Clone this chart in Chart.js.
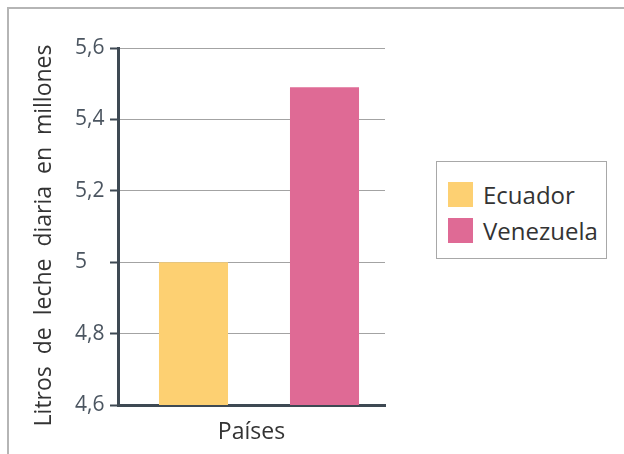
<!DOCTYPE html>
<html>
<head>
<meta charset="utf-8">
<script src="https://cdn.jsdelivr.net/npm/chart.js@4"></script>
<style>
  html, body { margin: 0; padding: 0; background: #fff; }
  #wrap { position: relative; width: 624px; height: 454px; overflow: hidden; }
  #frame { position: absolute; left: 7px; top: 7px; right: -4px; bottom: -4px;
           border-top: 2px solid #b5b5b5; border-left: 2px solid #b5b5b5; }
  #chart { position: absolute; left: 0; top: 0; }
  #legend { position: absolute; left: 436px; top: 161px; width: 169px; height: 96px;
            border: 1px solid #a8a8a8; background: #fff; font-family: "Open Sans", sans-serif;
            font-size: 24px; color: #333; }
  .item { position: absolute; left: 11px; height: 25px; line-height: 25px; white-space: nowrap; }
  .item span { display: inline-block; width: 25px; height: 25px; vertical-align: top; margin-right: 10px; }
</style>
</head>
<body>
<div id="wrap">
  <div id="frame"></div>
  <canvas id="chart" width="624" height="454"></canvas>
  <div id="legend"></div>
</div>
<script>
const CATEGORIES = ["Ecuador", "Venezuela"];
const VALUES = [5.0, 5.49];
const COLORS = ["#fdd072", "#df6a95"];
const Y_TICK_VALUES = [4.6, 4.8, 5.0, 5.2, 5.4, 5.6];
const Y_TICK_LABELS = ["4,6", "4,8", "5", "5,2", "5,4", "5,6"];

const AXIS_COLOR = "#3e4953";
const FONT = "'Open Sans', sans-serif";

const datasets = CATEGORIES.map((name, i) => ({
    label: name,
    data: [{ x: i + 1, y: VALUES[i] }],
    backgroundColor: COLORS[i],
    borderWidth: 0,
    grouped: false,
    categoryPercentage: 1,
    barPercentage: 0.527
}));

// html legend
const legend = document.getElementById("legend");
CATEGORIES.forEach((name, i) => {
    const row = document.createElement("div");
    row.className = "item";
    row.style.top = (20 + i * 36) + "px";
    row.innerHTML = '<span style="background:' + COLORS[i] + '"></span>' + name;
    legend.appendChild(row);
});

const ctx = document.getElementById("chart").getContext("2d");
const myChart = new Chart(ctx, {
    type: "bar",
    data: { datasets: datasets },
    options: {
        responsive: false,
        animation: false,
        layout: { padding: { left: 0, right: 239, top: 48, bottom: 0 } },
        plugins: {
            legend: { display: false },
            tooltip: { enabled: false }
        },
        scales: {
            x: {
                type: "linear",
                offset: false,
                min: 0.4237,
                max: 2.4618,
                afterBuildTicks: (scale) => {
                    scale.ticks = CATEGORIES.map((c, i) => ({ value: i + 1 }));
                },
                grid: { display: false },
                ticks: { display: false },
                border: { display: true, color: AXIS_COLOR, width: 3 },
                title: {
                    display: true,
                    text: "Países",
                    color: "#333",
                    font: { family: FONT, size: 23 },
                    padding: { top: 0, bottom: 8 }
                },
                afterFit: (scale) => { scale.height = 49; }
            },
            y: {
                min: 4.6,
                max: 5.6,
                weight: 0,
                afterBuildTicks: (scale) => {
                    scale.ticks = Y_TICK_VALUES.map(v => ({ value: v }));
                },
                ticks: {
                    crossAlign: "far",
                    color: "#4b5560",
                    font: { family: FONT, size: 21 },
                    callback: (v, i) => Y_TICK_LABELS[i]
                },
                grid: {
                    color: "#a3a3a3",
                    lineWidth: 1,
                    tickLength: 8,
                    tickColor: AXIS_COLOR,
                    tickWidth: 2
                },
                border: { display: true, color: AXIS_COLOR, width: 3 },
                afterFit: (scale) => { scale.width = 43; }
            },
            // empty axis that only carries the y title, outside the tick labels
            yTitle: {
                type: "linear",
                position: "left",
                weight: 1,
                ticks: { display: false },
                grid: { display: false },
                border: { display: false },
                title: {
                    display: true,
                    text: "Litros  de  leche  diaria  en  millones   ",
                    color: "#333",
                    font: { family: FONT, size: 23 },
                    padding: { top: 31, bottom: 0 }
                },
                afterFit: (scale) => { scale.width = 75; }
            }
        }
    }
});
</script>
</body>
</html>
